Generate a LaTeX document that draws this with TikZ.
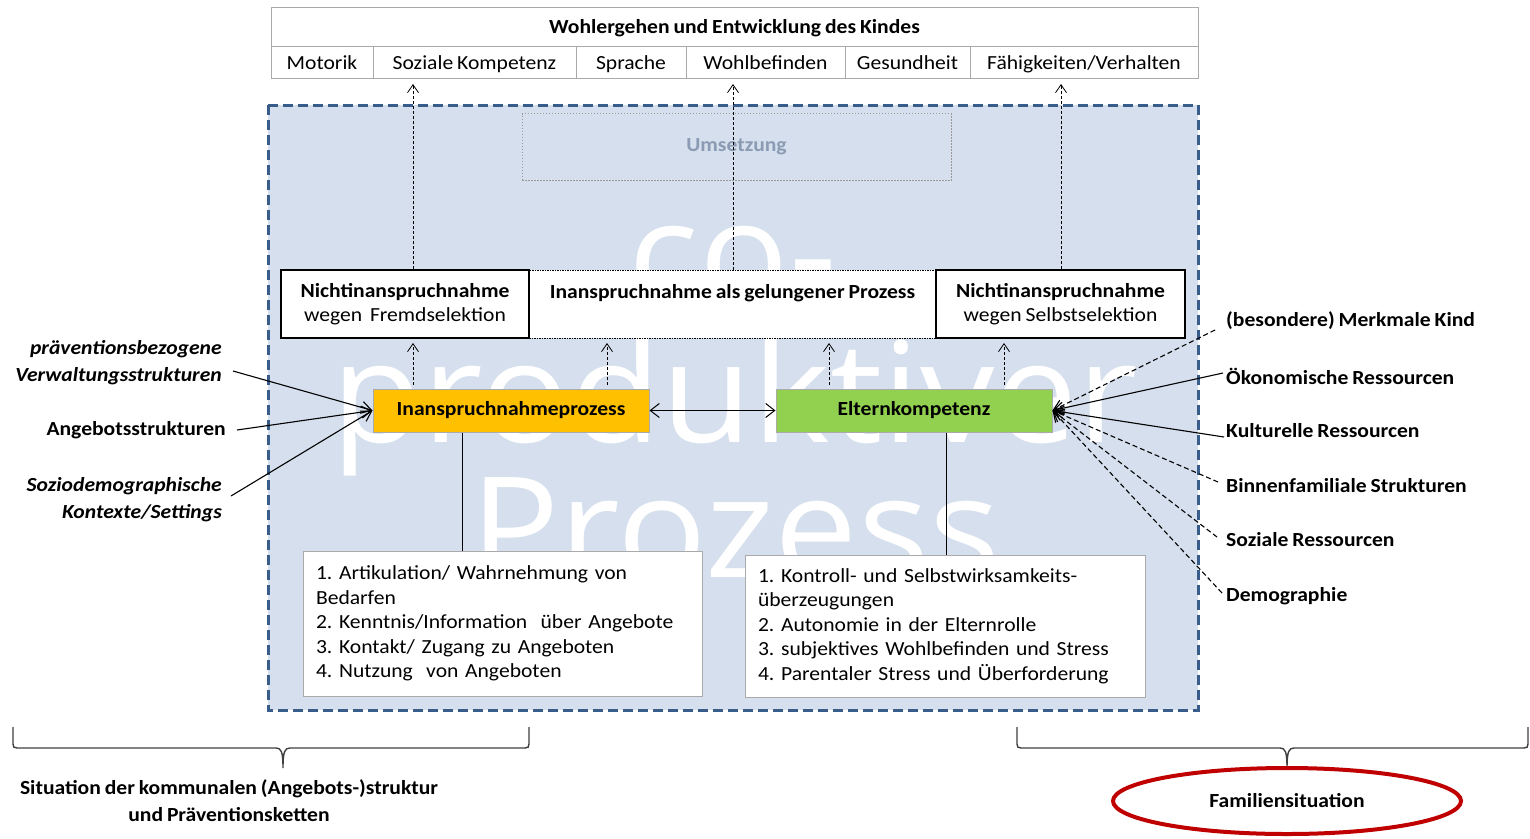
\documentclass[tikz,border=0pt]{standalone}
\usepackage{fontspec}
\setmainfont{Carlito}[FakeStretch=1.08, WordSpace=0.8]
\newfontfamily\wmfont{Open Sans}[FakeStretch=1.06]
\usetikzlibrary{arrows.meta,shapes.geometric,calc}
\definecolor{bgblue}{RGB}{213,223,237}
\definecolor{framec}{RGB}{56,93,138}
\definecolor{cellgray}{RGB}{170,170,170}
\definecolor{umsc}{RGB}{138,155,179}
\definecolor{yel}{RGB}{255,192,0}
\definecolor{grn}{RGB}{146,208,80}
\definecolor{redc}{RGB}{192,0,0}
\newcommand\mysize{\fontsize{20}{24.5}\selectfont}
\newcommand\mylab{\fontsize{20}{27}\selectfont}
\frenchspacing
\begin{document}
\begin{tikzpicture}[x=1pt,y=-1pt,
  every node/.style={font=\mysize, inner sep=0pt},
  cellbox/.style={draw=cellgray, line width=0.9pt, minimum height=32, text height=14pt, text depth=0pt},
  selbox/.style={draw=black, line width=1.1pt, fill=white, minimum height=68, align=center},
  procbox/.style={draw=cellgray, line width=1pt, minimum width=276, minimum height=43, font=\mysize\bfseries},
  listbox/.style={draw=cellgray, line width=0.9pt, fill=white, align=left, inner xsep=13pt},
  upar/.style={line width=0.8pt, dash pattern=on 3pt off 2pt, -{Straight Barb[length=8pt,width=11pt]}},
  convsolid/.style={line width=1.1pt, -{Straight Barb[length=10pt,width=12pt]}},
  convdash/.style={convsolid, dash pattern=on 5pt off 3pt},
  leftlab/.style={font=\mylab\bfseries\itshape, align=right, anchor=east},
  rightlab/.style={font=\mylab\bfseries, anchor=west},
  bracestyle/.style={line width=1.4pt, draw=black!75},
  wm/.style={text=white, font=\wmfont\fontsize{140}{140}\selectfont, anchor=base}
]
\useasboundingbox (0,0) rectangle (1530,838);
\fill[white] (0,0) rectangle (1530,838);

% main frame
\draw[fill=bgblue, draw=framec, line width=3pt, dash pattern=on 10pt off 5pt] (268,105) rectangle (1198,710);

% watermark
\node[wm] (wm1) at (733,302) {co-};
\node[wm] (wm2) at (735,442) {produktiver};
\node[wm] (wm3) at (735,577) {Prozess};

% Umsetzung
\node[draw=gray!80, dash pattern=on 1.5pt off 1.5pt, line width=0.8pt, minimum width=429, minimum height=67, text=umsc, font=\mysize\bfseries] (ums) at (736.5,147) {Umsetzung};

% header table
\node[cellbox, minimum width=927, minimum height=39, font=\mysize\bfseries] (hdr) at (734.5,26.5) {Wohlergehen und Entwicklung des Kindes};
\node[cellbox, minimum width=102] (mot) at (322,62) {Motorik};
\node[cellbox, minimum width=203] (soz) at (474.5,62) {Soziale Kompetenz};
\node[cellbox, minimum width=110] (spr) at (631,62) {Sprache};
\node[cellbox, minimum width=159] (wohl) at (765.5,62) {Wohlbefinden};
\node[cellbox, minimum width=125] (ges) at (907.5,62) {Gesundheit};
\node[cellbox, minimum width=228] (fae) at (1084,62) {Fähigkeiten/Verhalten};

% three outcome boxes
\node[draw=black, line width=1pt, dash pattern=on 1.5pt off 1pt, fill=white, minimum width=407, minimum height=68, align=center] (gel) at (732.5,304) {\textbf{Inanspruchnahme als gelungener Prozess}\\\mbox{}};
\node[selbox, minimum width=248] (fremd) at (405,304) {\textbf{Nichtinanspruchnahme}\\wegen~~Fremdselektion};
\node[selbox, minimum width=249] (selbst) at (1060.5,304) {\textbf{Nichtinanspruchnahme}\\wegen Selbstselektion};

% process boxes
\node[procbox, fill=yel] (yel) at (511,410.5) {Inanspruchnahmeprozess};
\node[procbox, fill=grn] (grn) at (914,410.5) {Elternkompetenz};

% lists
\node[listbox, minimum width=399, minimum height=145, text width=373pt] (list1) at (502.5,623.5) {1. Artikulation/ Wahrnehmung von\\Bedarfen\\2. Kenntnis/Information~~über Angebote\\3. Kontakt/ Zugang zu Angeboten\\4. Nutzung~~von Angeboten};
\node[listbox, minimum width=400, minimum height=142, text width=374pt] (list2) at (945,626) {1. Kontroll- und Selbstwirksamkeits-\\überzeugungen\\2. Autonomie in der Elternrolle\\3. subjektives Wohlbefinden und Stress\\4. Parentaler Stress und Überforderung};

% left labels
\node[leftlab] (verw) at (222,362.5) {präventionsbezogene\\Verwaltungsstrukturen};
\node[rightlab, anchor=east] (ang) at (226,430) {Angebotsstrukturen};
\node[leftlab] (sozio) at (222,499.5) {Soziodemographische\\Kontexte/Settings};

% right labels
\node[rightlab] (merk) at (1226,321) {(besondere) Merkmale Kind};
\node[rightlab] (oeko) at (1226,376) {Ökonomische Ressourcen};
\node[rightlab] (kult) at (1226,431) {Kulturelle Ressourcen};
\node[rightlab] (binn) at (1226,486) {Binnenfamiliale Strukturen};
\node[rightlab] (sres) at (1226,540) {Soziale Ressourcen};
\node[rightlab] (demo) at (1226,596) {Demographie};

% arrows to top table
\coordinate (t1) at (413,84);
\coordinate (t2) at (733,84);
\coordinate (t3) at (1061,84);
\draw[upar] (fremd.north -| t1) -- (t1);
\draw[upar] (gel.north -| t2) -- (t2);
\draw[upar] (selbst.north -| t3) -- (t3);

% arrows from process boxes to outcome boxes
\coordinate (u1) at (413,343);
\coordinate (u2) at (607,343);
\coordinate (u3) at (829,343);
\coordinate (u4) at (1004,343);
\draw[upar] ([yshift=4pt]yel.north -| u1) -- (u1);
\draw[upar] ([yshift=4pt]yel.north -| u2) -- (u2);
\draw[upar] ([yshift=4pt]grn.north -| u3) -- (u3);
\draw[upar] ([yshift=4pt]grn.north -| u4) -- (u4);

% double arrow
\draw[line width=1pt, {Straight Barb[length=9pt,width=14pt]}-{Straight Barb[length=9pt,width=14pt]}] (yel.east) -- (grn.west);

% vertical connectors to lists
\coordinate (v1) at (462,0);
\coordinate (v2) at (946,0);
\draw[line width=1pt] (yel.south -| v1) -- (list1.north -| v1);
\draw[line width=1pt] (grn.south -| v2) -- (list2.north -| v2);

% converging arrows left
\draw[convsolid] ([shift={(11,8.5)}]verw.east) -- (yel.west);
\draw[convsolid] ([shift={(11,0)}]ang.east) -- (yel.west);
\draw[convsolid] ([shift={(9,-3.5)}]sozio.east) -- (yel.west);

% converging arrows right
\draw[convdash] ([shift={(-11,9)}]merk.west) -- (grn.east);
\draw[convsolid] ([shift={(-3,-3)}]oeko.west) -- (grn.east);
\draw[convsolid] ([shift={(-2,6)}]kult.west) -- (grn.east);
\draw[convdash] ([shift={(-8,-4)}]binn.west) -- (grn.east);
\draw[convdash] ([shift={(-9,-3)}]sres.west) -- (grn.east);
\draw[convdash] ([shift={(-4,-3)}]demo.west) -- (grn.east);

% braces
\draw[bracestyle] (13,727) -- (13,744) .. controls (13,747) and (14,748) .. (17,748)
  -- (276,748) .. controls (281,748) and (283,751) .. (283,768)
  .. controls (283,751) and (285,748) .. (290,748)
  -- (525,748) .. controls (528,748) and (529,747) .. (529,744) -- (529,727);
\draw[bracestyle] (1017,727) -- (1017,744) .. controls (1017,747) and (1018,748) .. (1021,748)
  -- (1280,748) .. controls (1285,748) and (1287,751) .. (1287,768)
  .. controls (1287,751) and (1289,748) .. (1294,748)
  -- (1524,748) .. controls (1527,748) and (1528,747) .. (1528,744) -- (1528,727);

% bottom labels
\node[font=\mylab\bfseries, align=center] (sit) at (229,800.5) {Situation der kommunalen (Angebots-)struktur\\und Präventionsketten};
\node[ellipse, draw=redc, line width=4pt, minimum width=348, minimum height=66, font=\mysize\bfseries] (fam) at (1287,801) {Familiensituation};
\end{tikzpicture}
\end{document}
